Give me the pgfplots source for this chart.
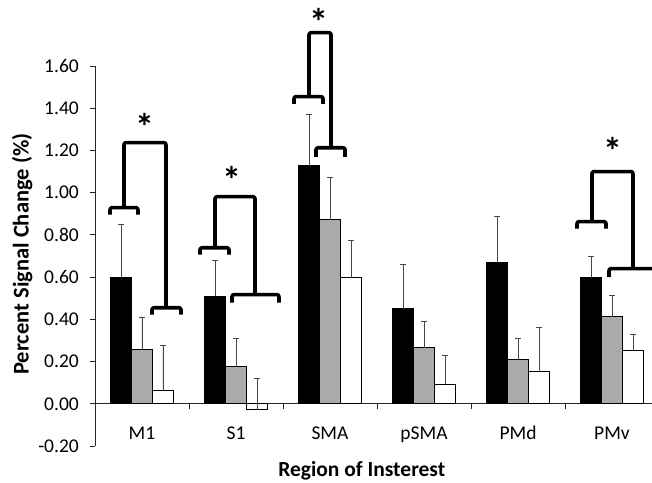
\documentclass[border=0pt]{standalone}
\usepackage{pgfplots}
\pgfplotsset{compat=1.18}
\usepackage{pgfplotstable}
\usepackage{fontspec}
\setmainfont{Carlito}

\pgfplotstableread{
x b be g ge w we
0 0.597 0.251 0.256 0.152 0.062 0.213
1 0.510 0.170 0.175 0.133 -0.028 0.148
2 1.128 0.242 0.872 0.198 0.597 0.176
3 0.450 0.209 0.265 0.124 0.094 0.134
4 0.668 0.218 0.209 0.099 0.152 0.208
5 0.597 0.103 0.412 0.100 0.251 0.076
}\data

\definecolor{bargray}{RGB}{170,170,170}
\definecolor{errgray}{RGB}{70,70,70}

\newcommand{\brk}[4]{\draw[br] (axis cs:#1,#4) -- (axis cs:#1,#3) -- (axis cs:#2,#3) -- (axis cs:#2,#4);}

\begin{document}
\begin{tikzpicture}[x=1pt,y=1pt,br/.style={line width=3.6pt,line join=round,rounded corners=2pt,black}]
\begin{axis}[
  at={(0,0)}, anchor=south west,
  scale only axis, width=564pt, height=380pt,
  xmin=-0.5, xmax=5.5, ymin=-0.2, ymax=1.6,
  axis x line*=middle, axis y line*=left,
  axis line style={black!85, line width=0.8pt},
  clip=false,
  ybar=0pt, bar width=0.2234,
  xtick={0,1,2,3,4,5},
  xticklabels={M1,S1,SMA,pSMA,PMd,PMv},
  minor xtick={0.5,1.5,2.5,3.5,4.5,5.5},
  major x tick style={draw=none},
  ytick={-0.2,0,0.2,0.4,0.6,0.8,1.0,1.2,1.4,1.6},
  tick align=outside,
  major tick length=5pt, minor tick length=5pt,
  tick style={black!85, line width=0.8pt},
  /pgf/number format/assume math mode=true,
  yticklabel style={/pgf/number format/.cd, fixed, fixed zerofill, precision=2, /tikz/.cd,
     font=\fontsize{19.5}{20}\selectfont, anchor=east, inner sep=0pt, xshift=-11pt},
  xticklabel style={font=\fontsize{19.5}{20}\selectfont, anchor=base, yshift=-31pt},
  xlabel={Region of Insterest},
  ylabel={Percent Signal Change (\%)},
  xlabel style={at={(axis description cs:0.473,-0.064)}, anchor=center, font=\bfseries\fontsize{21.5}{21.5}\selectfont},
  ylabel style={at={(axis description cs:-0.129,0.505)}, anchor=center, font=\bfseries\fontsize{22.5}{22.5}\selectfont},
  error bars/y dir=plus, error bars/y explicit,
  error bars/error bar style={errgray, line width=0.8pt},
  error bars/error mark options={rotate=90, mark size=3pt, errgray, line width=0.8pt},
]
\addplot[fill=black, draw=black, line width=0.8pt] table[x=x, y=b, y error=be] {\data};
\addplot[fill=bargray, draw=black, line width=0.8pt] table[x=x, y=g, y error=ge] {\data};
\addplot[fill=white, draw=black, line width=0.8pt] table[x=x, y=w, y error=we] {\data};

% M1
\brk{-0.340}{-0.043}{0.929}{0.896}
\draw[br] (axis cs:-0.191,0.929) -- (axis cs:-0.191,1.237) -- (axis cs:0.255,1.237) -- (axis cs:0.255,0.455);
\brk{0.106}{0.415}{0.455}{0.422}
\node[font=\bfseries\fontsize{38}{38}\selectfont] at (axis cs:0.03,1.31) {*};
% S1
\brk{0.617}{0.926}{0.739}{0.706}
\draw[br] (axis cs:0.777,0.739) -- (axis cs:0.777,0.981) -- (axis cs:1.202,0.981) -- (axis cs:1.202,0.517);
\brk{0.957}{1.457}{0.517}{0.479}
\node[font=\bfseries\fontsize{38}{38}\selectfont] at (axis cs:0.957,1.06) {*};
% SMA
\brk{1.617}{1.926}{1.455}{1.42}
\draw[br] (axis cs:1.777,1.455) -- (axis cs:1.777,1.758) -- (axis cs:2.011,1.758) -- (axis cs:2.011,1.213);
\brk{1.851}{2.160}{1.213}{1.17}
\node[font=\bfseries\fontsize{38}{38}\selectfont] at (axis cs:1.883,1.81) {*};
% PMv
\brk{4.628}{4.936}{0.863}{0.83}
\draw[br] (axis cs:4.787,0.863) -- (axis cs:4.787,1.10) -- (axis cs:5.223,1.10) -- (axis cs:5.223,0.64);
\draw[br] (axis cs:4.968,0.60) -- (axis cs:4.968,0.64) -- (axis cs:5.8,0.64);
\node[font=\bfseries\fontsize{38}{38}\selectfont] at (axis cs:5.01,1.20) {*};
\end{axis}
\node[anchor=base east, font=\bfseries\fontsize{25}{25}\selectfont] at (155pt,449pt) {Contralesional hemisphere ROIs};
\pgfresetboundingbox
\path[use as bounding box] (-95pt,-36pt) rectangle (557pt,446pt);
\end{tikzpicture}
\end{document}
